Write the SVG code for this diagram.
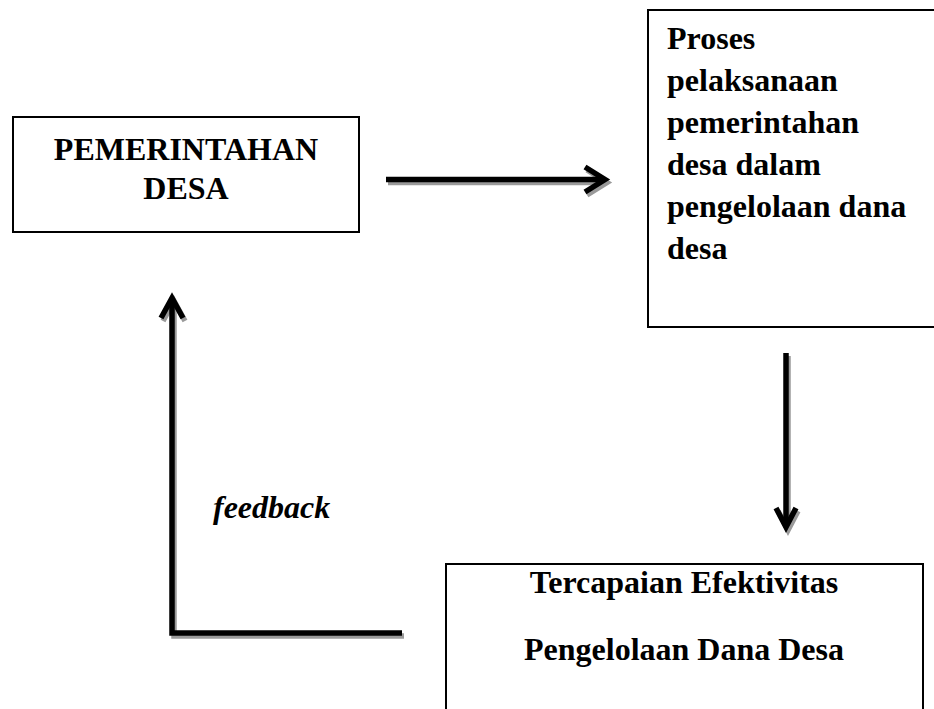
<svg xmlns="http://www.w3.org/2000/svg" width="934" height="709" viewBox="0 0 934 709">
<style>
.box{fill:#fff;stroke:#000;stroke-width:2}
.t{font-family:"Liberation Serif","Times New Roman",serif;font-weight:bold;font-size:32px;fill:#000}
.c{text-anchor:middle}
.ln{fill:none;stroke:#000;stroke-width:5.5;stroke-linejoin:miter;stroke-linecap:butt}
.sh{fill:none;stroke:#9a9a9a;stroke-width:5.5;stroke-linejoin:miter;stroke-linecap:butt}
</style>
<rect width="934" height="709" fill="#fff"/>
<g id="connectors">
  <g id="arrow-right">
    <g transform="translate(2,3)">
      <path class="sh" d="M386 179.5 H603"/>
      <path class="sh" d="M585 167 L605 179.5 L585 192"/>
    </g>
    <path class="ln" d="M386 179.5 H603"/>
    <path class="ln" d="M585 167 L605 179.5 L585 192"/>
  </g>
  <g id="arrow-down">
    <g transform="translate(2,3)">
      <path class="sh" d="M786 353 V527"/>
      <path class="sh" d="M776 508 L786 527 L796 508"/>
    </g>
    <path class="ln" d="M786 353 V527"/>
    <path class="ln" d="M776 508 L786 527 L796 508"/>
  </g>
  <g id="arrow-feedback">
    <g transform="translate(2,3)">
      <path class="sh" d="M402 633 H172 V299"/>
      <path class="sh" d="M161 318 L172 298 L183 318"/>
    </g>
    <path class="ln" d="M402 633 H172 V299"/>
    <path class="ln" d="M161 318 L172 298 L183 318"/>
  </g>
  <text class="t" x="213" y="518" font-style="italic">feedback</text>
</g>
<g id="node-pemerintahan">
  <rect class="box" x="13" y="117" width="346" height="115"/>
  <text class="t c" x="186" y="160">PEMERINTAHAN</text>
  <text class="t c" x="186" y="199">DESA</text>
</g>
<g id="node-proses">
  <rect class="box" x="648" y="10" width="300" height="317"/>
  <text class="t" x="667" y="49">Proses</text>
  <text class="t" x="667" y="91">pelaksanaan</text>
  <text class="t" x="667" y="133">pemerintahan</text>
  <text class="t" x="667" y="175">desa dalam</text>
  <text class="t" x="667" y="217">pengelolaan dana</text>
  <text class="t" x="667" y="259">desa</text>
</g>
<g id="node-tercapaian">
  <rect class="box" x="446" y="564" width="477" height="160"/>
  <text class="t c" x="684" y="593">Tercapaian Efektivitas</text>
  <text class="t c" x="684" y="660">Pengelolaan Dana Desa</text>
</g>
</svg>
